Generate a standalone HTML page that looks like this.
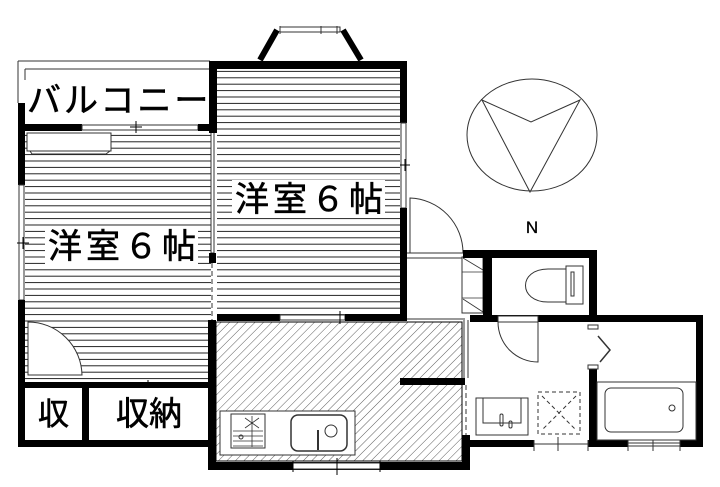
<!DOCTYPE html>
<html><head><meta charset="utf-8"><style>
html,body{margin:0;padding:0;background:#fff;}
svg{display:block;}
text{font-family:"Liberation Sans","Noto Sans CJK JP",sans-serif;fill:#000;stroke:#000;stroke-width:0.6;}
</style></head><body>
<svg width="720" height="487" viewBox="0 0 720 487" xmlns="http://www.w3.org/2000/svg">
<defs>
<pattern id="hl" width="10" height="6.4" patternUnits="userSpaceOnUse" y="0.5">
<line x1="0" y1="0.5" x2="10" y2="0.5" stroke="#222" stroke-width="1"/>
</pattern>
<pattern id="hatch" width="6" height="6" patternUnits="userSpaceOnUse" patternTransform="rotate(45)">
<line x1="0" y1="0" x2="0" y2="6" stroke="#333" stroke-width="0.8"/>
</pattern>
</defs>

<rect x="25" y="131" width="186" height="252" fill="url(#hl)"/>
<rect x="217" y="69" width="183" height="246" fill="url(#hl)"/>
<rect x="216" y="322" width="246" height="139" fill="url(#hatch)" stroke="#000" stroke-width="1"/>

<path d="M18 61 H210 M18 61 V103 M25 69 H210 M25 69 V80" stroke="#333" stroke-width="1" fill="none"/>
<rect x="18" y="103" width="7" height="82" fill="#000"/>
<rect x="19" y="185" width="5" height="115" fill="#fff" stroke="#333"/>
<rect x="18" y="300" width="7" height="147" fill="#000"/>
<rect x="22" y="124" width="60" height="7" fill="#000"/>
<rect x="82" y="125" width="116" height="5" fill="#fff" stroke="#333"/>
<rect x="198" y="124" width="15" height="7" fill="#000"/>
<path d="M136 121 V133 M130 127 H142 M17 243 H29 M23 237 V249" stroke="#000"/>
<rect x="27" y="133" width="84" height="18" fill="#fff" stroke="#333"/>
<path d="M30 151 L32 154 H106 L110 151" stroke="#333" fill="none"/>
<rect x="211" y="131" width="3" height="122" fill="#fff" stroke="#333"/>
<rect x="209" y="253" width="7" height="10" fill="#000"/>
<path d="M212 263 V320" stroke="#333" stroke-dasharray="5 3"/>
<rect x="209" y="61" width="198" height="8" fill="#000"/>
<rect x="209" y="61" width="8" height="72" fill="#000"/>
<rect x="400" y="61" width="7" height="62" fill="#000"/>
<rect x="401" y="123" width="5" height="85" fill="#fff" stroke="#333"/>
<rect x="400" y="208" width="7" height="113" fill="#000"/>
<path d="M400 165 H410 M405 159 V171" stroke="#000"/>
<rect x="217" y="314" width="63" height="7" fill="#000"/>
<rect x="280" y="315" width="65" height="5" fill="#fff" stroke="#333"/>
<rect x="345" y="314" width="62" height="7" fill="#000"/>
<path d="M340 311 V324" stroke="#000"/>
<path d="M260 60 L277 30 M361 60 L343 30" stroke="#000" stroke-width="6"/>
<rect x="280" y="27" width="60" height="5" fill="#fff" stroke="#333"/>
<path d="M321 26 V34 M337 26 V34 M280 26 V34" stroke="#333"/>

<path d="M28 375 V322 A54 54 0 0 1 82 375 Z" fill="#fff" stroke="#333"/>
<rect x="22" y="382" width="191" height="6" fill="#000"/>
<rect x="82" y="382" width="7" height="65" fill="#000"/>
<rect x="18" y="440" width="197" height="7" fill="#000"/>
<path d="M148 380 V390" stroke="#000"/>
<rect x="25" y="388" width="57" height="52" fill="#fff"/>
<rect x="89" y="388" width="121" height="52" fill="#fff"/>

<rect x="208" y="320" width="8" height="150" fill="#000"/>
<rect x="208" y="462" width="262" height="8" fill="#000"/>
<rect x="293" y="463" width="87" height="6" fill="#fff" stroke="#333"/>
<path d="M337 458 V475 M293 461 V472 M380 461 V472" stroke="#000"/>
<rect x="400" y="378" width="65" height="7" fill="#000"/>
<path d="M464 320 V378 M468 320 V378" stroke="#333"/>
<path d="M466 385 V435" stroke="#333" stroke-dasharray="5 3"/>
<rect x="462" y="435" width="8" height="35" fill="#000"/>
<rect x="220" y="411" width="135" height="44" fill="#fff" stroke="#333"/>
<rect x="231" y="414" width="34" height="34" fill="#fff" stroke="#333"/>
<path d="M233 431 H263 M233 436 H263 M233 441 H263 M233 446 H263 M252 416 V447 M245 418 L259 428 M259 418 L245 428" stroke="#333" stroke-width="0.8"/>
<circle cx="241" cy="437" r="2" fill="none" stroke="#333"/>
<rect x="291" y="415" width="56" height="36" rx="7" fill="#fff" stroke="#333" stroke-width="1.5"/>
<circle cx="331" cy="431" r="6" fill="none" stroke="#333"/>
<path d="M318 430 V450" stroke="#333" stroke-width="2"/>

<path d="M407 253 H465 M407 258 H462 M407 319 H465" stroke="#333"/>
<path d="M410 253 V198 A55 55 0 0 1 463 253" fill="none" stroke="#333"/>
<rect x="462" y="257" width="21" height="56" fill="#fff" stroke="#333"/>
<path d="M462 272 H483 M462 298 H483 M463 258 L483 270 M463 299 L483 312" stroke="#333" stroke-width="0.8"/>

<rect x="463" y="250" width="134" height="8" fill="#000"/>
<rect x="483" y="250" width="9" height="70" fill="#000"/>
<rect x="589" y="250" width="8" height="70" fill="#000"/>
<path d="M566 269 H548 C518 269 518 302 548 302 H566 Z" fill="#fff" stroke="#333"/>
<rect x="566" y="266" width="17" height="38" fill="#fff" stroke="#333"/>
<rect x="571" y="272" width="3" height="24" fill="none" stroke="#333"/>

<rect x="470" y="315" width="233" height="7" fill="#000"/>
<rect x="696" y="315" width="7" height="132" fill="#000"/>
<rect x="470" y="440" width="64" height="7" fill="#000"/>
<rect x="588" y="440" width="40" height="7" fill="#000"/>
<rect x="680" y="440" width="23" height="7" fill="#000"/>
<path d="M534 444 H588 M628 443 H680 M628 446 H680 M558 437 V451 M653 437 V451 M534 440 V451 M588 440 V451 M628 440 V451 M680 440 V451" stroke="#333"/>
<rect x="589" y="368" width="8" height="79" fill="#000"/>
<rect x="588" y="325" width="10" height="4" fill="#fff" stroke="#333"/>
<rect x="588" y="365" width="10" height="4" fill="#fff" stroke="#333"/>
<path d="M598 336 L610 350 L600 362" fill="none" stroke="#333" stroke-width="1.5"/>
<rect x="498" y="316" width="40" height="6" fill="#fff" stroke="#333"/>
<path d="M538 322 V362 A40 40 0 0 1 498 322" fill="none" stroke="#333"/>
<rect x="476" y="398" width="52" height="37" fill="#fff" stroke="#333"/>
<rect x="483" y="398" width="38" height="25" fill="none" stroke="#333"/>
<rect x="500" y="414" width="3" height="12" rx="1.5" fill="none" stroke="#333"/>
<rect x="509" y="421" width="3" height="7" rx="1.5" fill="none" stroke="#333"/>
<rect x="538" y="392" width="42" height="42" fill="none" stroke="#333" stroke-dasharray="4 3"/>
<path d="M542 396 L576 430 M576 396 L542 430" stroke="#333" stroke-dasharray="4 3"/>
<rect x="597" y="382" width="99" height="58" fill="#fff" stroke="#333"/>
<rect x="605" y="388" width="78" height="44" rx="6" fill="none" stroke="#333"/>
<circle cx="672" cy="408" r="3" fill="none" stroke="#333"/>

<ellipse cx="532" cy="135" rx="65" ry="56" fill="none" stroke="#333"/>
<path d="M482 100 L531 122 L580 100 L530 192 Z" fill="none" stroke="#333"/>
<text x="532" y="233" font-size="17" text-anchor="middle" style="stroke-width:0.3">N</text>

<rect x="232" y="180" width="153" height="38" fill="#fff"/>
<rect x="45" y="227" width="153" height="38" fill="#fff"/>
<text x="27" y="112" font-size="34" letter-spacing="3">バルコニー</text>
<text x="235" y="211" font-size="34" letter-spacing="4">洋室６帖</text>
<text x="48" y="258" font-size="34" letter-spacing="4">洋室６帖</text>
<text x="38" y="425" font-size="31">収</text>
<text x="116" y="425" font-size="33">収納</text>
</svg>
</body></html>
